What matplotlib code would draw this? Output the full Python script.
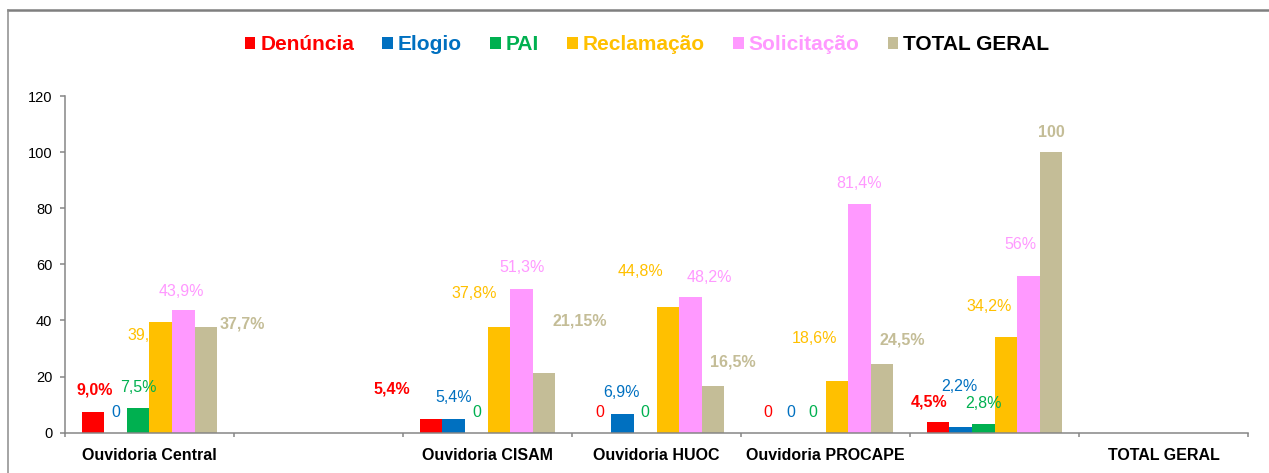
import matplotlib.pyplot as plt
from matplotlib.lines import Line2D
import numpy as np

plt.rcParams['font.family'] = ['Liberation Sans', 'DejaVu Sans']

nan = np.nan

# categories along the x axis (two slots are empty in the original)
categories = ['Ouvidoria Central', '', 'Ouvidoria CISAM', 'Ouvidoria HUOC',
              'Ouvidoria PROCAPE', '', 'TOTAL GERAL']
series_names = ['Denúncia', 'Elogio', 'PAI', 'Reclamação', 'Solicitação', 'TOTAL GERAL']

# bar heights
denuncia = [7.2, nan, 5.0, 0, 0, 3.7, nan]
elogio = [0, nan, 5.0, 6.7, 0, 1.9, nan]
pai = [8.8, nan, 0, 0, 0, 3.1, nan]
reclamacao = [39.4, nan, 37.8, 44.8, 18.6, 34.2, nan]
solicitacao = [43.9, nan, 51.3, 48.2, 81.4, 56, nan]
total_geral = [37.7, nan, 21.15, 16.5, 24.5, 100, nan]

# data label texts as printed on the chart
denuncia_lbl = ['9,0%', '', '5,4%', '0', '0', '4,5%', '']
elogio_lbl = ['0', '', '5,4%', '6,9%', '0', '2,2%', '']
pai_lbl = ['7,5%', '', '0', '0', '0', '2,8%', '']
reclamacao_lbl = ['39,4%', '', '37,8%', '44,8%', '18,6%', '34,2%', '']
solicitacao_lbl = ['43,9%', '', '51,3%', '48,2%', '81,4%', '56%', '']
total_lbl = ['37,7%', '', '21,15%', '16,5%', '24,5%', '100', '']

values = [denuncia, elogio, pai, reclamacao, solicitacao, total_geral]
labels = [denuncia_lbl, elogio_lbl, pai_lbl, reclamacao_lbl, solicitacao_lbl, total_lbl]

colors = ['#FF0000', '#0070C0', '#00B050', '#FFC000', '#FF99FF', '#C4BD97']
legend_text_colors = colors[:5] + ['#000000']
bold_labels = [True, False, False, False, False, True]

# label offsets from bar top (pixels, x right / y up) - manual placement like the original
label_offsets = [
    [(2, 22), None, (-39, 30), (0, 20), (-1, 20), (-9, 20), None],
    [(0, 20), None, (0, 21), (-1, 21), (-1, 20), (-1, 41), None],
    [(0, 21), None, (1, 20), (0, 20), (-1, 20), (0, 21), None],
    [(-11, -13), None, (-25, 33), (-27, 36), (-22, 42), (-17, 30), None],
    [(-2, 18), None, (1, 21), (19, 20), (0, 21), (-8, 31), None],
    [(36, 3), None, (36, 52), (20, 24), (20, 24), (0, 20), None],
]

fig = plt.figure(figsize=(12.69, 4.73), dpi=100)
ax = fig.add_axes([0.0512, 0.0852, 0.9323, 0.7118])

x = np.arange(len(categories))
n = len(series_names)
group_w = 0.8
bar_w = group_w / n
px2pt = 72 / fig.dpi

bars = []
for i, (vals, col) in enumerate(zip(values, colors)):
    xs = x - group_w / 2 + bar_w * (i + 0.5)
    b = ax.bar(xs, vals, width=bar_w, color=col, linewidth=0, zorder=2,
               label=series_names[i])
    bars.append(b)
    for j, rect in enumerate(b):
        txt = labels[i][j]
        if not txt:
            continue
        dx, dy = label_offsets[i][j]
        h = rect.get_height()
        weight = 'bold' if (bold_labels[i] and not (i == 0 and txt == '0')) else 'normal'
        # the "39,4%" label sits partly behind the bar in the original
        z = 1 if (dx < 0 and dy < 0) else 4
        ax.annotate(txt, xy=(rect.get_x() + rect.get_width() / 2, h),
                    xytext=(dx * px2pt, dy * px2pt), textcoords='offset points',
                    ha='center', va='center', fontsize=11.5, color=col,
                    fontweight=weight, zorder=z)

ax.set_xlim(-0.5, len(categories) - 0.5)
ax.set_ylim(0, 120)
ax.set_yticks(np.arange(0, 121, 20))
ax.set_xticks(x)
ax.set_xticklabels(categories, fontsize=11.5, fontweight='bold')
ax.set_xticks(np.arange(-0.5, len(categories), 1), minor=True)
ax.tick_params(axis='x', which='major', length=0, pad=11)
ax.tick_params(axis='x', which='minor', length=3, width=1.1, color='#868686', direction='out')
ax.tick_params(axis='y', length=3.6, width=1.1, color='#868686', labelsize=10.5, pad=5.5)

for s in ['top', 'right']:
    ax.spines[s].set_visible(False)
for s in ['left', 'bottom']:
    ax.spines[s].set_color('#868686')
    ax.spines[s].set_linewidth(1.1)

leg = fig.legend(handles=bars, labels=series_names, ncol=6, loc='center',
                 bbox_to_anchor=(0.51, 0.905), frameon=False,
                 prop={'weight': 'bold', 'size': 15},
                 handlelength=0.5, handleheight=0.5, handletextpad=0.25,
                 columnspacing=1.35, labelcolor=legend_text_colors)

# chart border (top and left edges only visible)
fig.add_artist(Line2D([8 / 1269, 1], [1 - 10 / 473, 1 - 10 / 473],
                      transform=fig.transFigure, color='#7f7f7f', linewidth=1.8))
fig.add_artist(Line2D([8 / 1269, 8 / 1269], [0, 1 - 10 / 473],
                      transform=fig.transFigure, color='#8c8c8c', linewidth=1.1))

fig.savefig('out.png', dpi=100)
plt.close(fig)
